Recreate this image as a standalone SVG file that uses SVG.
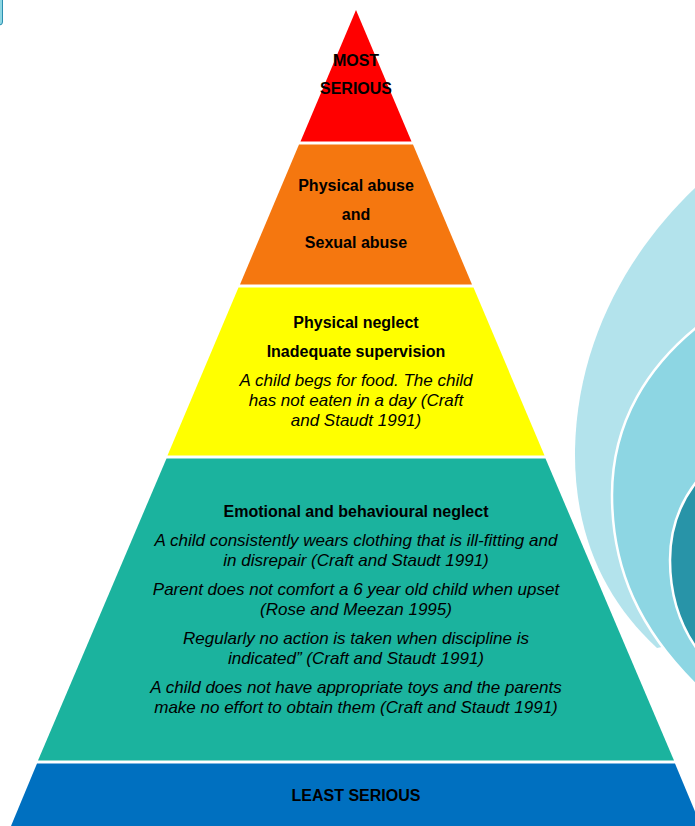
<svg xmlns="http://www.w3.org/2000/svg" width="695" height="826" viewBox="0 0 695 826">
<style>
.b{font-family:"Liberation Sans",Arial,sans-serif;font-weight:bold;font-size:16px;fill:#000;text-anchor:middle}
.i{font-family:"Liberation Sans",Arial,sans-serif;font-style:italic;font-size:17px;fill:#000;text-anchor:middle}
.arc{stroke:#fff;stroke-width:2.5}
</style>
<rect width="695" height="826" fill="#fff"/>
<g id="decor">
<rect x="-5" y="-5" width="7.5" height="30" rx="3" fill="#8ed7e3" stroke="#2b8fb0" stroke-width="1"/>
<path d="M695,188 C630,250 577,340 575,450 C574,535 605,600 657,648 L695,640 Z" fill="#b3e3ec"/>
<path class="arc" d="M697,327 C650,365 612,420 612,495 C612,570 640,630 697,686 Z" fill="#8dd6e3"/>
<path class="arc" d="M697,481 C678,505 670,530 670,560 C670,595 680,625 697,649 Z" fill="#2894a8"/>
</g>
<g id="most-serious">
<polygon points="356,10 411.5,141.5 300.5,141.5" fill="#ff0000"/>
<text class="b" x="356" y="66" font-size="16.5">MOST</text>
<text class="b" x="356" y="94" font-size="16.5">SERIOUS</text>
</g>
<g id="abuse">
<polygon points="299,144.5 413,144.5 472,284.5 240,284.5" fill="#f5770f"/>
<text class="b" x="356" y="191">Physical abuse</text>
<text class="b" x="356" y="219.5">and</text>
<text class="b" x="356" y="248">Sexual abuse</text>
</g>
<g id="physical-neglect">
<polygon points="238.5,287.5 473.5,287.5 544.5,455.5 167.5,455.5" fill="#ffff00"/>
<text class="b" x="356" y="328">Physical neglect</text>
<text class="b" x="356" y="357">Inadequate supervision</text>
<text class="i" x="356" y="386">A child begs for food. The child</text>
<text class="i" x="356" y="406">has not eaten in a day (Craft</text>
<text class="i" x="356" y="426">and Staudt 1991)</text>
</g>
<g id="emotional-neglect">
<polygon points="166.5,458.5 545.5,458.5 674,760.5 38,760.5" fill="#1bb39e"/>
<text class="b" x="356" y="517">Emotional and behavioural neglect</text>
<text class="i" x="356" y="546">A child consistently wears clothing that is ill-fitting and</text>
<text class="i" x="356" y="566">in disrepair (Craft and Staudt 1991)</text>
<text class="i" x="356" y="595">Parent does not comfort a 6 year old child when upset</text>
<text class="i" x="356" y="615">(Rose and Meezan 1995)</text>
<text class="i" x="356" y="644">Regularly no action is taken when discipline is</text>
<text class="i" x="356" y="664">indicated” (Craft and Staudt 1991)</text>
<text class="i" x="356" y="693">A child does not have appropriate toys and the parents</text>
<text class="i" x="356" y="713">make no effort to obtain them (Craft and Staudt 1991)</text>
</g>
<g id="least-serious">
<polygon points="37,763.5 675,763.5 701,826 11,826" fill="#0070c0"/>
<text class="b" x="356" y="801">LEAST SERIOUS</text>
</g>
<g id="connectors"/>
</svg>
